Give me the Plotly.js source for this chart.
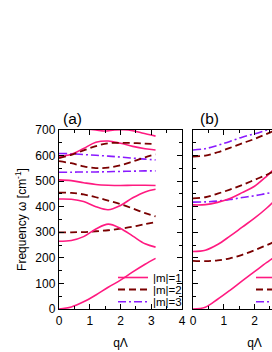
<!DOCTYPE html>
<html>
<head>
<meta charset="utf-8">
<script src="https://cdn.plot.ly/plotly-3.0.1.min.js"></script>
<style>
html,body{margin:0;padding:0;overflow:hidden;background:#fff;width:272px;height:352px;}
#chart{width:340px;height:352px;}
</style>
</head>
<body>
<div id="chart"></div>
<script>
// ---- Data ----
const qA = [0, 0.4, 0.8, 1.2, 1.6, 2.0, 2.4, 2.8, 3.14];
const qTopA = [0.9, 1.2, 1.5, 1.8, 2.1, 2.4, 2.7, 3.14];
// panel (a) |m|=1
const a_m1_1 = [0, 8, 28, 55, 85, 113, 145, 175, 198];
const a_m1_2 = [265, 268, 283, 313, 332, 315, 285, 255, 242];
const a_m1_3 = [430, 429, 420, 400, 388, 405, 435, 458, 468];
const a_m1_4 = [505, 502, 494, 487, 484, 483, 484, 484, 483];
const a_m1_5 = [595, 605, 628, 652, 657, 648, 636, 627, 622];
const a_m1_6 = [704, 700, 696, 700, 701, 697, 688, 676];
// panel (a) |m|=2
const a_m2_1 = [300, 300, 301, 304, 308, 314, 322, 332, 340];
const a_m2_2 = [455, 454, 448, 437, 424, 410, 393, 375, 362];
const a_m2_3 = [578, 570, 558, 551, 553, 562, 577, 593, 605];
const a_m2_4 = [590, 603, 620, 637, 648, 650, 649, 647, 645];
// panel (a) |m|=3
const a_m3_1 = [608, 607, 604, 601, 598, 594, 590, 586, 583];
const a_m3_2 = [535, 535, 536, 536, 537, 538, 539, 540, 540];

const qB = [0, 0.4, 0.8, 1.2, 1.6, 2.0, 2.4, 2.8, 3.14];
// panel (b)
const b_m1_1 = [0, 7, 38, 73, 110, 146, 182, 215, 235];
const b_m1_2 = [225, 230, 252, 285, 320, 355, 395, 440, 470];
const b_m1_3 = [407, 408, 417, 432, 455, 480, 520, 565, 590];
const b_m2_1 = [188, 187, 190, 198, 212, 230, 250, 270, 283];
const b_m2_2 = [433, 437, 451, 467, 485, 505, 525, 548, 565];
const b_m2_3 = [596, 600, 613, 630, 648, 665, 685, 705, 720];
const b_m3_1 = [418, 419, 422, 428, 436, 443, 452, 460, 467];
const b_m3_2 = [622, 627, 640, 655, 672, 685, 700, 715, 730];

const legendNames = ['|m|=1', '|m|=2', '|m|=3'];
const yTicks = [0, 100, 200, 300, 400, 500, 600, 700];
const xTicks = [0, 1, 2, 3, 4];

// ---- Styles ----
const C1 = '#ff1a80', C2 = '#7a0000', C3 = '#8a1aff';
const styles = [
  {color: C1, width: 1.6, dash: 'solid', shape: 'spline'},
  {color: C2, width: 1.8, dash: '7px,4px', shape: 'spline'},
  {color: C3, width: 1.6, dash: '8px,3px,2px,3px', shape: 'spline'}
];
// one small legend per entry so the rows can sit as close as in the reference
const legA = ['legend', 'legend3', 'legend4'];
const legB = ['legend2', 'legend5', 'legend6'];

function tr(x, y, m, xa, ya, legend, show) {
  return {x: x, y: y, mode: 'lines', type: 'scatter', xaxis: xa, yaxis: ya,
    line: styles[m], name: legendNames[m],
    showlegend: show, legend: legend, hoverinfo: 'skip'};
}

const traces = [
  tr(qA, a_m1_1, 0, 'x', 'y', legA[0], true),
  tr(qA, a_m2_1, 1, 'x', 'y', legA[1], true),
  tr(qA, a_m3_1, 2, 'x', 'y', legA[2], true),
  tr(qA, a_m1_2, 0, 'x', 'y', legA[0], false),
  tr(qA, a_m1_3, 0, 'x', 'y', legA[0], false),
  tr(qA, a_m1_4, 0, 'x', 'y', legA[0], false),
  tr(qA, a_m1_5, 0, 'x', 'y', legA[0], false),
  tr(qTopA, a_m1_6, 0, 'x', 'y', legA[0], false),
  tr(qA, a_m2_2, 1, 'x', 'y', legA[1], false),
  tr(qA, a_m2_3, 1, 'x', 'y', legA[1], false),
  tr(qA, a_m2_4, 1, 'x', 'y', legA[1], false),
  tr(qA, a_m3_2, 2, 'x', 'y', legA[2], false),

  tr(qB, b_m1_1, 0, 'x2', 'y2', legB[0], true),
  tr(qB, b_m2_1, 1, 'x2', 'y2', legB[1], true),
  tr(qB, b_m3_1, 2, 'x2', 'y2', legB[2], true),
  tr(qB, b_m1_2, 0, 'x2', 'y2', legB[0], false),
  tr(qB, b_m1_3, 0, 'x2', 'y2', legB[0], false),
  tr(qB, b_m2_2, 1, 'x2', 'y2', legB[1], false),
  tr(qB, b_m2_3, 1, 'x2', 'y2', legB[1], false),
  tr(qB, b_m3_2, 2, 'x2', 'y2', legB[2], false)
];

const FONT = 'Liberation Sans, Arial, sans-serif';
const plotW = 257, plotH = 179;
const dA = [0, 123 / plotW], dB = [134 / plotW, 1];

function xAxis(domain, anchor) {
  return {domain: domain, anchor: anchor, range: [0, 4], tickvals: xTicks,
    ticks: 'inside', ticklen: 5, tickwidth: 1, tickcolor: '#000',
    showline: true, linecolor: '#000', linewidth: 1.2, mirror: 'ticks',
    showgrid: false, zeroline: false,
    minor: {dtick: 0.5, tick0: 0, ticks: 'inside', ticklen: 3, tickcolor: '#000', showgrid: false},
    tickfont: {family: FONT, size: 12, color: '#000'},
    title: {text: 'q\u039B', font: {family: FONT, size: 12, color: '#000'}, standoff: 12}};
}
function yAxis(anchor, labels) {
  const ax = {domain: [0, 1], anchor: anchor, range: [0, 700], tickvals: yTicks,
    showticklabels: labels,
    ticks: 'inside', ticklen: 5, tickwidth: 1, tickcolor: '#000',
    showline: true, linecolor: '#000', linewidth: 1.2, mirror: 'ticks',
    showgrid: false, zeroline: false,
    minor: {dtick: 50, tick0: 0, ticks: 'inside', ticklen: 3, tickcolor: '#000', showgrid: false},
    tickfont: {family: FONT, size: 12, color: '#000'}};
  if (labels) {
    ax.title = {text: 'Frequency \u03C9 [cm<sup>-1</sup>]', font: {family: FONT, size: 12, color: '#000'}, standoff: 6};
  }
  return ax;
}

const rowPy = [277.5, 289.5, 301.7];
function leg(i, xpx, anchor) {
  return {bgcolor: 'rgba(0,0,0,0)', borderwidth: 0,
    font: {family: FONT, size: 11.5, color: '#000'}, itemwidth: 30,
    xref: 'paper', yref: 'paper', x: (xpx - 59) / plotW, xanchor: anchor,
    y: (309 - rowPy[i]) / plotH, yanchor: 'middle'};
}

const layout = {
  width: 340, height: 352,
  margin: {l: 59, r: 24, t: 130, b: 43},
  paper_bgcolor: '#fff', plot_bgcolor: '#fff',
  font: {family: FONT, size: 12, color: '#000'},
  xaxis: xAxis(dA, 'y'),
  yaxis: yAxis('x', true),
  xaxis2: xAxis(dB, 'y2'),
  yaxis2: yAxis('x2', false),
  legend: leg(0, 187, 'right'),
  legend3: leg(1, 187, 'right'),
  legend4: leg(2, 187, 'right'),
  legend2: leg(0, 251, 'left'),
  legend5: leg(1, 251, 'left'),
  legend6: leg(2, 251, 'left'),
  annotations: [
    {text: '(a)', xref: 'x domain', yref: 'y domain', x: 0.02, y: 1, xanchor: 'left', yanchor: 'bottom',
     yshift: 1, showarrow: false, font: {family: FONT, size: 15.5, color: '#000'}},
    {text: '(b)', xref: 'x2 domain', yref: 'y2 domain', x: 0.04, y: 1, xanchor: 'left', yanchor: 'bottom',
     yshift: 1, showarrow: false, font: {family: FONT, size: 15.5, color: '#000'}}
  ],
  showlegend: true
};

Plotly.newPlot('chart', traces, layout, {staticPlot: true, displayModeBar: false});
</script>
</body>
</html>
